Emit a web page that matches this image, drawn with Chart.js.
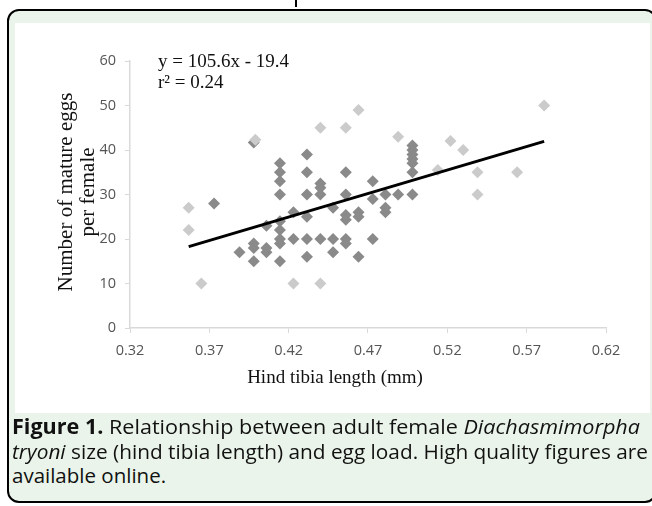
<!DOCTYPE html>
<html>
<head>
<meta charset="utf-8">
<script src="https://cdn.jsdelivr.net/npm/chart.js@4.4.1/dist/chart.umd.min.js"></script>
<style>
  html, body { margin: 0; padding: 0; background: #fff; width: 652px; height: 506px; overflow: hidden; }
  #stub { position: absolute; left: 295px; top: 0; width: 2px; height: 7px; background: #000; }
  #box { position: absolute; left: 7px; top: 9px; width: 650px; height: 494px; border: 2px solid #000; border-radius: 12px; background: #eaf4ea; box-sizing: border-box; }
  #panel { position: absolute; left: 15px; top: 23px; width: 635px; height: 390px; background: #fff; }
  #cap { position: absolute; left: 12px; top: 414px; width: 700px; font-family: 'Open Sans', sans-serif; font-size: 20.5px; line-height: 24.5px; color: #111; }
  #cap .ln { display: block; white-space: nowrap; transform-origin: 0 50%; width: max-content; }
  #cap b { font-weight: bold; }
</style>
</head>
<body>
<div id="stub"></div>
<div id="box"></div>
<div id="panel"><canvas id="c" width="635" height="390"></canvas></div>
<div id="cap">
  <span class="ln" data-w="628"><b>Figure 1.</b> Relationship between adult female <i>Diachasmimorpha</i></span>
  <span class="ln" data-w="636"><i>tryoni</i> size (hind tibia length) and egg load. High quality figures are</span>
  <span class="ln">available online.</span>
</div>
<script>
// Hind tibia length (mm) vs number of mature eggs per female
const darkX = [0.373,0.389,0.398,0.398,0.398,0.398,0.406,0.406,0.406,
  0.4145,0.4145,0.4145,0.4145,0.4145,0.4145,0.4145,0.4145,0.4145,
  0.423,0.423,0.4315,0.4315,0.4315,0.4315,0.4315,0.4315,
  0.44,0.44,0.44,0.44,0.448,0.448,0.448,
  0.456,0.456,0.456,0.456,0.456,0.456,0.464,0.464,0.464,
  0.473,0.473,0.473,0.481,0.481,0.481,0.489,
  0.498,0.498,0.498,0.498,0.498,0.498,0.498];
const darkY = [28,17,19,18,15,41.7,23,18,17,
  37,35,33,30,24,22,20,19,15,
  26,20,39,35,30,25,20,16,
  32.5,31.5,30,20,27,20,17,
  35,30,25.4,24.3,20,19,26,25,16,
  33,29,20,30,27,26,30,
  41,40,39,38,37,35,30];
const lightX = [0.357,0.357,0.365,0.399,0.423,0.44,0.44,0.456,0.464,0.489,0.514,0.522,0.530,0.539,0.539,0.564,0.581];
const lightY = [27,22,10,42.3,10,10,45,45,49,43,35.5,42,40,35,30,35,50];
const trendX = [0.357, 0.581];
const trendY = [18.3, 41.95];
const xTicks = [0.32,0.37,0.42,0.47,0.52,0.57,0.62];
const yTicks = [0,10,20,30,40,50,60];
const xTitle = 'Hind tibia length (mm)';
const yTitle = ['Number of mature eggs', 'per female'];
const eqText = ['y = 105.6x - 19.4', 'r\u00B2 = 0.24'];

// stretch caption lines to the reference widths
document.querySelectorAll('#cap .ln[data-w]').forEach(el => {
  const w = el.getBoundingClientRect().width;
  el.style.transform = 'scaleX(' + (parseFloat(el.dataset.w) / w) + ')';
});

const pts = (xs, ys) => xs.map((x, i) => ({x, y: ys[i]}));

const titles = {
  id: 'titles',
  afterDraw(chart) {
    const ctx = chart.ctx, a = chart.chartArea;
    ctx.save();
    ctx.fillStyle = '#111';
    ctx.font = '19px "Liberation Serif", serif';
    ctx.textAlign = 'center';
    ctx.textBaseline = 'middle';
    ctx.fillText(xTitle, a.left + 205, a.bottom + 50);
    ctx.save();
    ctx.translate(51, a.top + 131);
    ctx.rotate(-Math.PI / 2);
    ctx.font = '21px "Liberation Serif", serif';
    ctx.fillText(yTitle[0], 0, 0);
    ctx.fillText(yTitle[1], 0, 22);
    ctx.restore();
    ctx.font = '19px "Liberation Serif", serif';
    ctx.textAlign = 'left';
    ctx.fillText(eqText[0], a.left + 28, a.top + 1);
    ctx.fillText(eqText[1], a.left + 28, a.top + 22);
    ctx.restore();
  }
};

new Chart(document.getElementById('c'), {
  type: 'scatter',
  data: {
    datasets: [
      { type: 'line', data: pts(trendX, trendY), borderColor: '#000', borderWidth: 3, pointRadius: 0, fill: false, order: 0 },
      { data: pts(lightX, lightY), pointStyle: 'rectRot', pointRadius: 6, backgroundColor: '#cbcbcb', borderWidth: 0, order: 1 },
      { data: pts(darkX, darkY), pointStyle: 'rectRot', pointRadius: 6, backgroundColor: '#8a8a8a', borderWidth: 0, order: 2 }
    ]
  },
  options: {
    responsive: false,
    animation: false,
    layout: { padding: { left: 0, right: 44, top: 38, bottom: 0 } },
    plugins: { legend: { display: false }, tooltip: { enabled: false } },
    scales: {
      x: {
        type: 'linear', min: 0.32, max: 0.62,
        afterBuildTicks(s) { s.ticks = xTicks.map(v => ({value: v})); },
        afterFit(s) { s.height = 85; },
        border: { color: '#d9d9d9', width: 1.5 },
        grid: { drawOnChartArea: false, drawTicks: true, tickLength: 5, tickColor: '#d9d9d9' },
        ticks: { padding: 9, color: '#555', font: { family: '"Open Sans", sans-serif', size: 14.5 }, maxRotation: 0, callback: v => v.toFixed(2) }
      },
      y: {
        min: 0, max: 60,
        afterBuildTicks(s) { s.ticks = yTicks.map(v => ({value: v})); },
        afterFit(s) { s.width = 115; },
        border: { color: '#d9d9d9', width: 1.5 },
        grid: { drawOnChartArea: false, drawTicks: true, tickLength: 5, tickColor: '#d9d9d9' },
        ticks: { padding: 9, color: '#555', font: { family: '"Open Sans", sans-serif', size: 14.5 } }
      }
    }
  },
  plugins: [titles]
});
</script>
</body>
</html>
